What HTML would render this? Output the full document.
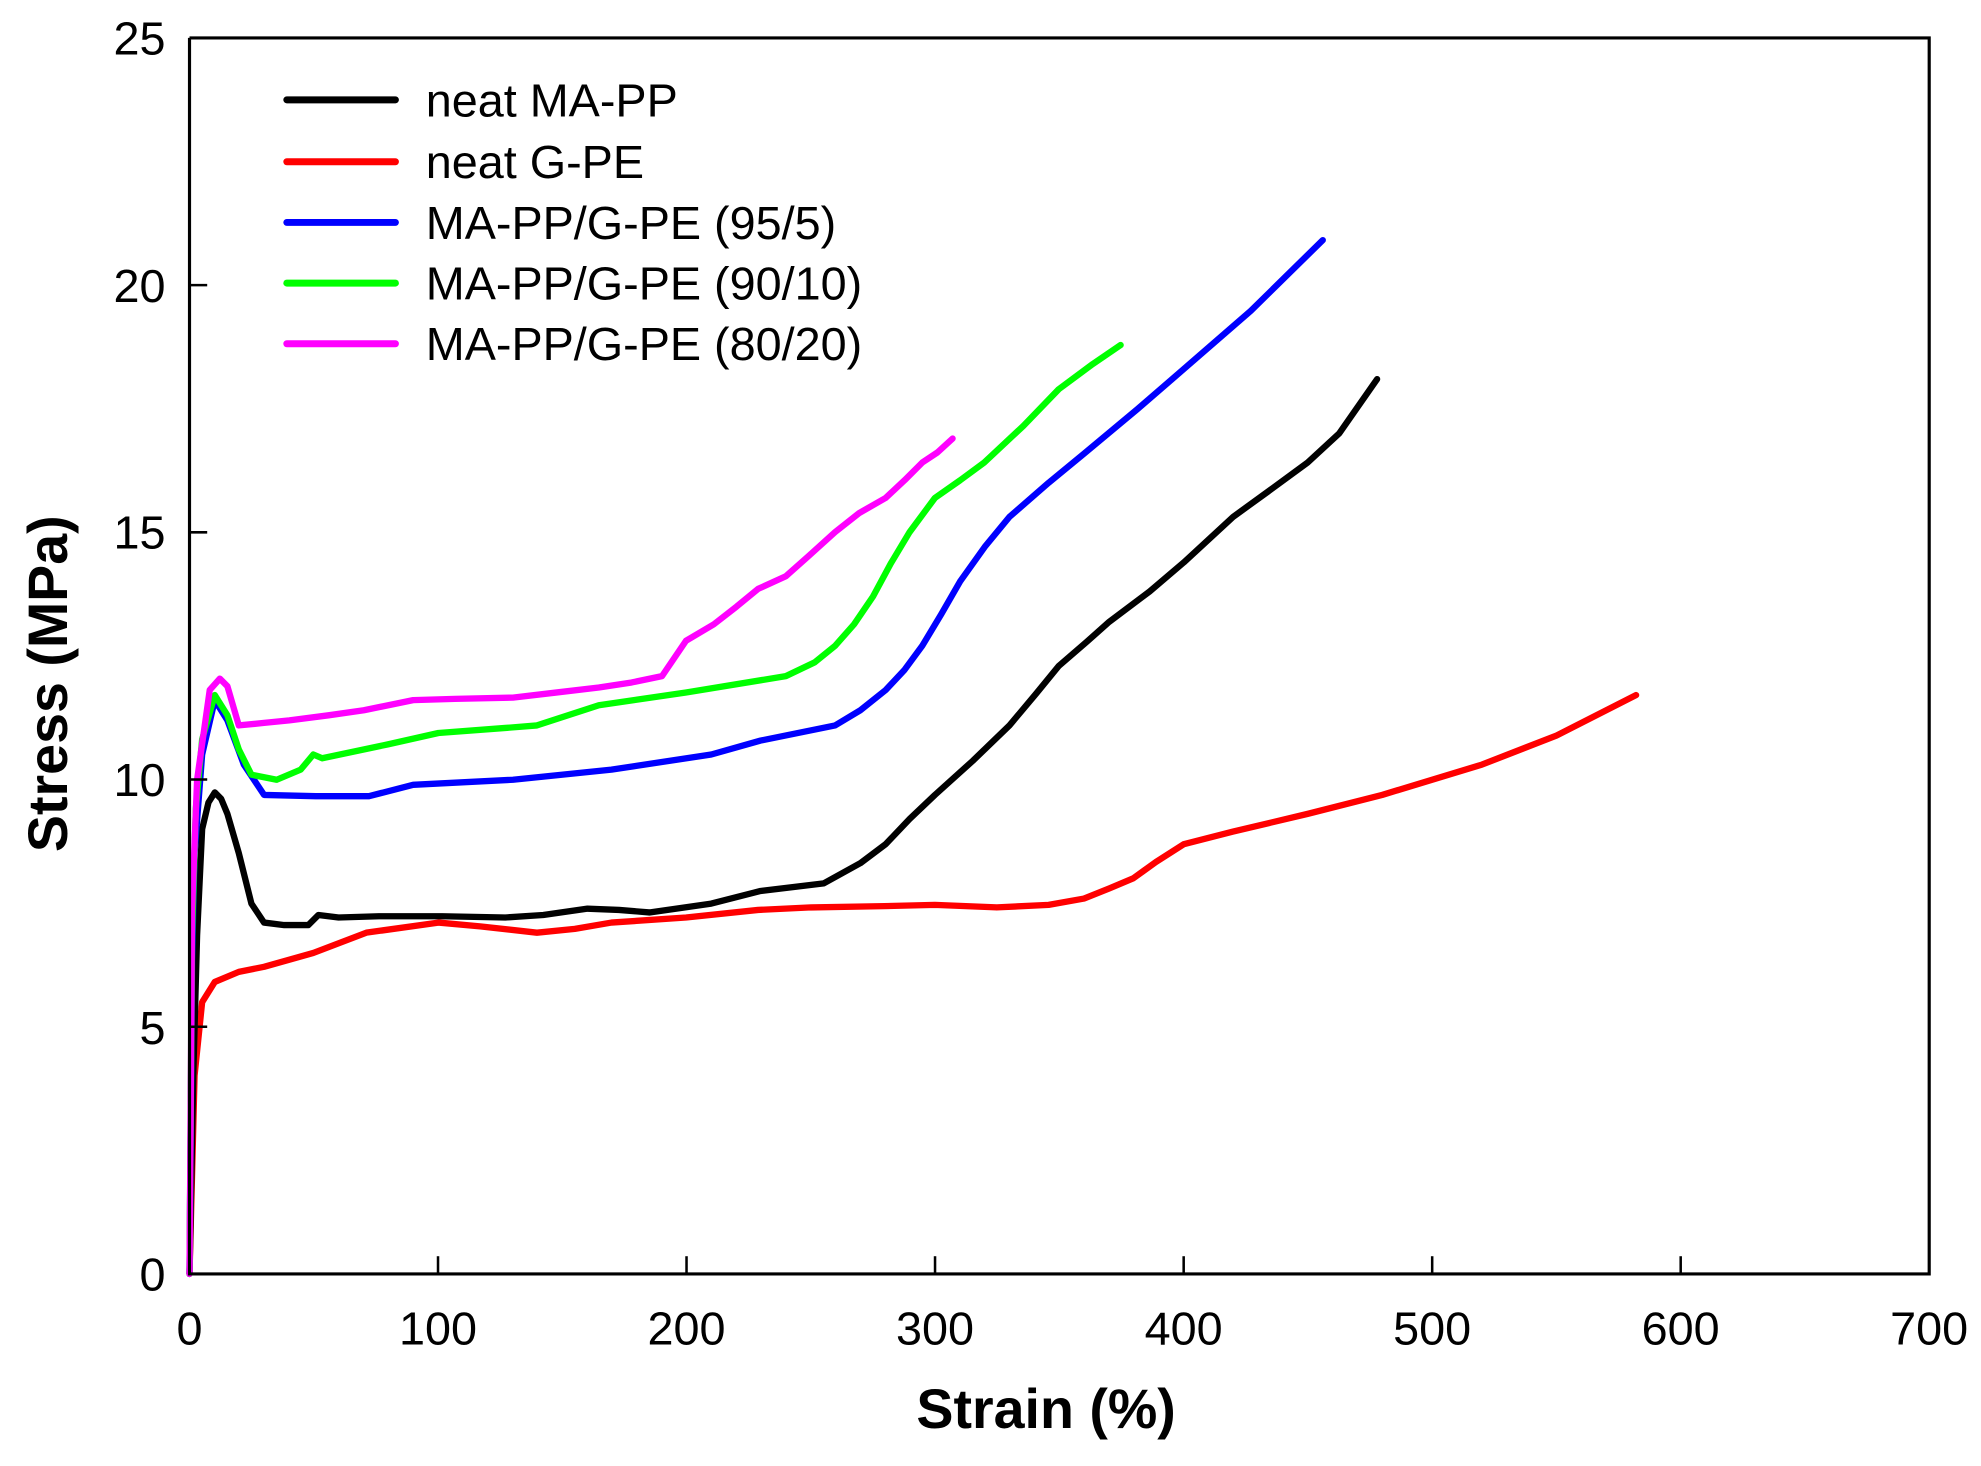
<!DOCTYPE html>
<html><head><meta charset="utf-8"><style>html,body{margin:0;padding:0;background:#fff}svg{display:block}</style></head>
<body>
<svg width="1981" height="1466" viewBox="0 0 1568 1160" preserveAspectRatio="none" xmlns="http://www.w3.org/2000/svg" font-family="Liberation Sans, Arial, sans-serif">
<rect x="0" y="0" width="1568" height="1160" fill="#fff"/>
<g fill="none" stroke-width="5" stroke-linejoin="round" stroke-linecap="round">
<polyline stroke="#ff0000" points="150,1008 152,930 154,851 160,793 170,777 189,769 209,765 248,754 290,738 347,730 380,733 425,738 455,735 484,730 543,726 600,720 642,718 700,717 740,716 789,718 830,716 858,711 878,703 897,695 915,682 937,668 976,658 1035,644 1094,629 1173,605 1232,582 1295,550"/>
<polyline stroke="#000000" points="150,1008 153,850 156,740 160,656 165,635 170,627 175,632 180,644 189,675 199,715 209,730 225,732 244,732 252,724 268,726 300,725 350,725 400,726 430,724 465,719 490,720 514,722 563,715 602,705 652,699 681,683 701,668 720,648 740,629 770,602 799,574 820,549 838,527 860,508 878,492 910,468 937,445 976,409 1005,388 1035,366 1060,343 1090,300"/>
<polyline stroke="#0000ff" points="150,1008 152,760 154,675 160,597 170,554 180,570 193,605 209,629 250,630 292,630 327,621 406,617 484,609 563,597 602,586 661,574 681,562 701,546 716,530 730,511 745,486 760,460 780,432 799,409 830,382 858,359 900,324 937,292 990,246 1047,190"/>
<polyline stroke="#00ff00" points="150,1008 152,740 155,640 160,585 170,550 180,566 189,593 199,613 219,617 238,609 248,597 255,600 307,589 347,580 400,576 425,574 474,558 543,548 622,535 645,524 661,511 676,494 691,472 705,446 720,421 740,394 760,380 779,366 810,337 838,308 865,288 887,273"/>
<polyline stroke="#ff00ff" points="150,1008 152,720 156,617 166,546 174,537 180,543 189,574 209,572 229,570 260,566 288,562 327,554 360,553 406,552 440,548 474,544 500,540 524,535 543,507 565,494 583,480 600,466 622,456 640,440 661,421 680,406 701,394 716,380 730,366 742,358 754,347"/>
</g>
<g stroke="#000" stroke-width="2.5" fill="none">
<polyline points="150,30 150,1008 1527,1008 1527,30 150,30"/>
</g>
<g stroke="#000" stroke-width="2">
<line x1="346.7" y1="1008" x2="346.7" y2="994"/><line x1="543.4" y1="1008" x2="543.4" y2="994"/><line x1="740.1" y1="1008" x2="740.1" y2="994"/><line x1="936.9" y1="1008" x2="936.9" y2="994"/><line x1="1133.6" y1="1008" x2="1133.6" y2="994"/><line x1="1330.3" y1="1008" x2="1330.3" y2="994"/>
<line x1="150" y1="812.4" x2="164" y2="812.4"/><line x1="150" y1="616.8" x2="164" y2="616.8"/><line x1="150" y1="421.2" x2="164" y2="421.2"/><line x1="150" y1="225.6" x2="164" y2="225.6"/>
</g>
<g font-size="37" fill="#000" text-anchor="middle">
<text x="150" y="1064">0</text><text x="346.7" y="1064">100</text><text x="543.4" y="1064">200</text><text x="740.1" y="1064">300</text><text x="936.9" y="1064">400</text><text x="1133.6" y="1064">500</text><text x="1330.3" y="1064">600</text><text x="1527" y="1064">700</text>
</g>
<g font-size="37" fill="#000" text-anchor="end">
<text x="131" y="1021">0</text><text x="131" y="826">5</text><text x="131" y="630">10</text><text x="131" y="434">15</text><text x="131" y="239">20</text><text x="131" y="43">25</text>
</g>
<text x="828" y="1130" font-size="44" font-weight="bold" text-anchor="middle">Strain (%)</text>
<text transform="translate(53,541) rotate(-90)" font-size="44" font-weight="bold" text-anchor="middle">Stress (MPa)</text>
<g stroke-width="5.5" stroke-linecap="round">
<line x1="227" y1="79" x2="313" y2="79" stroke="#000"/>
<line x1="227" y1="128" x2="313" y2="128" stroke="#ff0000"/>
<line x1="227" y1="176" x2="313" y2="176" stroke="#0000ff"/>
<line x1="227" y1="224" x2="313" y2="224" stroke="#00ff00"/>
<line x1="227" y1="272" x2="313" y2="272" stroke="#ff00ff"/>
</g>
<g font-size="37" fill="#000">
<text x="337" y="92">neat MA-PP</text>
<text x="337" y="141">neat G-PE</text>
<text x="337" y="189">MA-PP/G-PE (95/5)</text>
<text x="337" y="237">MA-PP/G-PE (90/10)</text>
<text x="337" y="285">MA-PP/G-PE (80/20)</text>
</g>
</svg>
</body></html>
